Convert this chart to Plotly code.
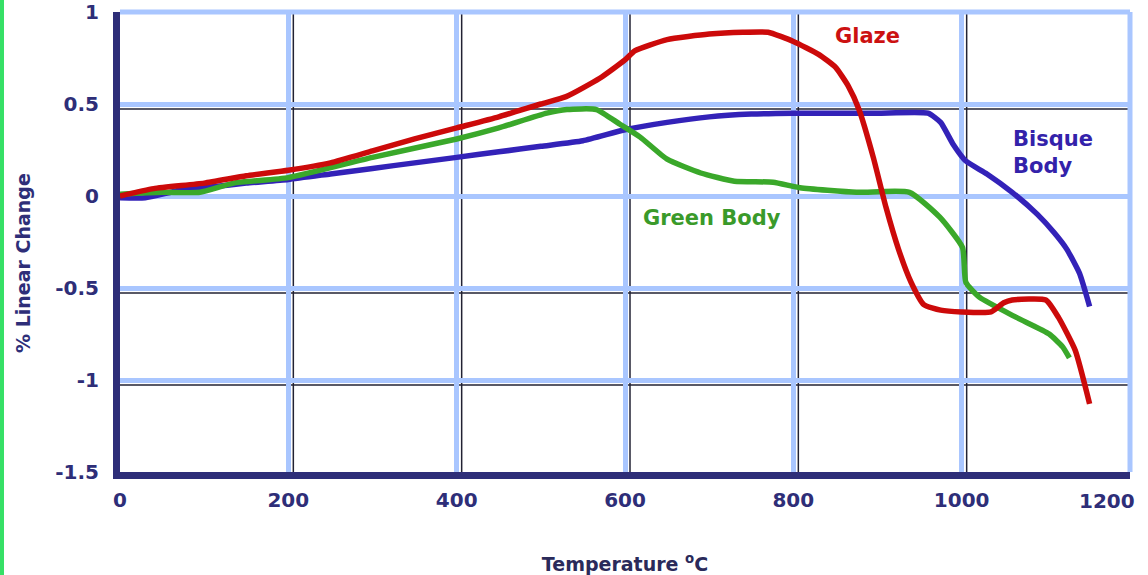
import plotly.graph_objects as go

# ---- data ----
glaze_x = [0, 40, 100, 150, 200, 250, 300, 350, 400, 450, 500, 530, 570, 600, 612, 650, 700, 740, 770, 800,
           830, 850, 865, 878, 895, 910, 925, 940, 955, 975, 1000, 1035, 1050, 1060, 1100, 1115, 1135, 1152]
glaze_y = [0.0, 0.04, 0.07, 0.11, 0.14, 0.18, 0.245, 0.31, 0.37, 0.43, 0.50, 0.54, 0.64, 0.74, 0.79, 0.85, 0.88, 0.89, 0.89, 0.84,
           0.77, 0.70, 0.60, 0.47, 0.21, -0.06, -0.29, -0.47, -0.59, -0.62, -0.63, -0.63, -0.58, -0.565, -0.565, -0.66, -0.84, -1.13]

green_x = [0, 50, 95, 135, 200, 300, 400, 450, 507, 531, 566, 594, 618, 650, 690, 730, 776, 808, 875, 938,
           974, 1001, 1005, 1021, 1065, 1104, 1120, 1128]
green_y = [0.01, 0.02, 0.02, 0.07, 0.10, 0.21, 0.31, 0.37, 0.45, 0.47, 0.47, 0.39, 0.32, 0.20, 0.125, 0.08, 0.075, 0.045, 0.02, 0.02,
           -0.115, -0.28, -0.47, -0.55, -0.66, -0.75, -0.82, -0.88]

bisque_x = [0, 30, 70, 110, 150, 200, 250, 300, 350, 400, 450, 500, 550, 600, 650, 700, 750, 800, 850, 900,
            960, 975, 990, 1005, 1030, 1060, 1090, 1110, 1125, 1140, 1152]
bisque_y = [-0.01, -0.01, 0.03, 0.05, 0.07, 0.09, 0.12, 0.15, 0.18, 0.21, 0.24, 0.27, 0.30, 0.36, 0.40, 0.43, 0.445, 0.45, 0.45, 0.45,
            0.45, 0.40, 0.28, 0.19, 0.12, 0.02, -0.10, -0.20, -0.29, -0.42, -0.60]

x_ticks = [0, 200, 400, 600, 800, 1000, 1200]
x_tick_text = ["0", "200", "400", "600", "800", "1000", "1200"]
y_ticks = [1, 0.5, 0, -0.5, -1, -1.5]
y_tick_text = ["1", "0.5", "0", "-0.5", "-1", "-1.5"]
black_grid_x = [200, 400, 600, 800, 1000]
black_grid_y = [0.5, -0.5, -1]

NAVY = "#2e2e78"
FONT = "DejaVu Sans, Arial, sans-serif"
GRID = "#a9c6ff"

fig = go.Figure()
for xs, ys, col in [(bisque_x, bisque_y, "#3322b8"), (green_x, green_y, "#3aa82a"), (glaze_x, glaze_y, "#cc0a0a")]:
    fig.add_trace(go.Scatter(x=xs, y=ys, mode="lines", line=dict(color=col, width=5.5, shape="spline", smoothing=0.5),
                             showlegend=False, hoverinfo="skip"))

shapes = []
# thin black grid lines, drawn slightly offset from the light-blue ones
for gx in black_grid_x:
    shapes.append(dict(type="line", xref="x", yref="paper", xsizemode="pixel", xanchor=gx, x0=5, x1=5,
                       y0=0, y1=1, line=dict(color="#222233", width=1.5), layer="below"))
for gy in black_grid_y:
    shapes.append(dict(type="line", xref="paper", yref="y", ysizemode="pixel", yanchor=gy, y0=-5, y1=-5,
                       x0=0, x1=1, line=dict(color="#222233", width=1.5), layer="below"))
# green stripe on left border of picture
shapes.append(dict(type="rect", xref="paper", yref="paper", x0=-120/1010, x1=-116/1010, y0=-103/460, y1=1+12/460,
                   fillcolor="#36e066", line=dict(width=0), layer="below"))
# light blue top / right edges
shapes.append(dict(type="line", xref="paper", yref="paper", x0=0, x1=1, y0=1, y1=1,
                   line=dict(color=GRID, width=5), layer="below"))
shapes.append(dict(type="line", xref="paper", yref="paper", x0=1, x1=1, y0=0, y1=1,
                   line=dict(color=GRID, width=5), layer="below"))

tickfont = dict(size=20, family=FONT, color=NAVY, weight="bold")
annfont = dict(size=21, family=FONT, weight="bold")

fig.update_layout(
    width=1148, height=575,
    margin=dict(l=120, r=18, t=12, b=103, autoexpand=False),
    paper_bgcolor="white", plot_bgcolor="white",
    shapes=shapes,
    font=dict(family=FONT, color=NAVY),
    xaxis=dict(range=[0, 1200], tickvals=x_ticks[:-1], ticktext=x_tick_text[:-1], showgrid=True, gridcolor=GRID, gridwidth=5,
               zeroline=False, showline=True, linecolor=NAVY, linewidth=7, ticks="",
               tickfont=tickfont, ticklabelstandoff=4, automargin=False,
               title=dict(text="Temperature <sup>o</sup>C", font=dict(size=19, family=FONT, color="#2a2a5a", weight="bold"),
                          standoff=50)),
    yaxis=dict(range=[-1.5, 1], tickvals=y_ticks, ticktext=y_tick_text, showgrid=True, gridcolor=GRID, gridwidth=5,
               zeroline=False, showline=True, linecolor=NAVY, linewidth=7, ticks="", automargin=False,
               tickfont=tickfont, ticklabelstandoff=10),
    annotations=[
        # last x tick label, right-aligned at the axis end so it stays inside the picture
        dict(xref="x", yref="paper", x=x_ticks[-1], y=0, text=x_tick_text[-1], xanchor="right", yanchor="middle",
             xshift=7, yshift=-29, showarrow=False, font=tickfont),
        dict(xref="paper", yref="paper", x=(23 - 120) / 1010, y=(472 - 263) / 460, text="% Linear Change",
             textangle=-90, xanchor="center", yanchor="middle", showarrow=False,
             font=dict(size=19, family=FONT, color=NAVY, weight="bold")),
        dict(x=888, y=0.87, text="Glaze", showarrow=False, font=dict(annfont, color="#cc1111")),
        dict(x=1059, y=0.235, text="Bisque<br>Body", showarrow=False, xanchor="left", align="left",
             font=dict(annfont, color="#3322aa")),
        dict(x=703, y=-0.12, text="Green Body", showarrow=False, font=dict(annfont, color="#3a9a2a")),
    ],
)

fig.write_html("out.html")
